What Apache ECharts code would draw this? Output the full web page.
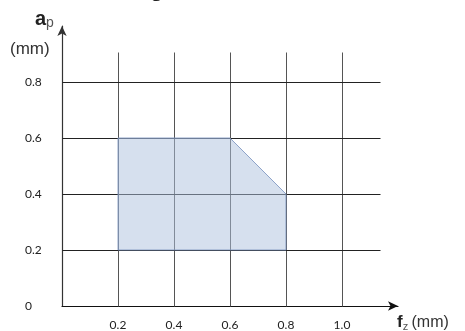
<!DOCTYPE html>
<html><head><meta charset="utf-8">
<script src="https://cdn.jsdelivr.net/npm/echarts@6/dist/echarts.min.js"></script>
<style>html,body{margin:0;padding:0;background:#fff}#c{width:465px;height:331px}</style>
</head><body><div id="c"></div>
<script>
// Data
var xTickValues = [0.2, 0.4, 0.6, 0.8, 1.0];
var xTickLabels = ['0.2', '0.4', '0.6', '0.8', '1.0'];
var yTickValues = [0, 0.2, 0.4, 0.6, 0.8];
var yTickLabels = ['0', '0.2', '0.4', '0.6', '0.8'];
var regionFz = [0.2, 0.2, 0.6, 0.8, 0.8];
var regionAp = [0.2, 0.6, 0.6, 0.4, 0.2];
var gridLineXEnd = 1.136;
var gridLineYEnd = 0.907;

var chart = echarts.init(document.getElementById('c'));

function fmt(list, labels) {
  return function (v) {
    for (var i = 0; i < list.length; i++) if (Math.abs(list[i] - v) < 1e-6) return labels[i];
    return '';
  };
}

var gridData = [];
xTickValues.forEach(function (x) { gridData.push([x, 0, x, gridLineYEnd]); });
yTickValues.forEach(function (y) { if (y > 0) gridData.push([0, y, gridLineXEnd, y]); });

var polyData = regionFz.map(function (x, i) { return [x, regionAp[i]]; });

chart.setOption({
  animation: false,
  grid: { left: 62, right: 67, top: 26, bottom: 25, containLabel: false },
  xAxis: {
    type: 'value', min: 0, max: 1.2, interval: 0.2,
    splitLine: { show: false },
    axisTick: { show: false },
    axisLine: { onZero: false, symbol: ['none', 'arrow'], symbolSize: [7, 10], lineStyle: { color: '#111', width: 1.2 } },
    axisLabel: { formatter: fmt(xTickValues, xTickLabels), margin: 13, color: '#222', fontFamily: 'Lato', fontSize: 12 }
  },
  yAxis: {
    type: 'value', min: 0, max: 1.0, interval: 0.2,
    splitLine: { show: false },
    axisTick: { show: false },
    axisLine: { onZero: false, symbol: ['none', 'arrow'], symbolSize: [7, 10], lineStyle: { color: '#333', width: 1.2 } },
    axisLabel: { formatter: fmt(yTickValues, yTickLabels), margin: 37, align: 'left', color: '#222', fontFamily: 'Lato', fontSize: 12 }
  },
  series: [
    {
      type: 'custom', silent: true, z: 1,
      data: gridData,
      renderItem: function (params, api) {
        var p1 = api.coord([api.value(0), api.value(1)]);
        var p2 = api.coord([api.value(2), api.value(3)]);
        var vertical = api.value(0) === api.value(2);
        return {
          type: 'line',
          shape: { x1: Math.round(p1[0]) + 0.5, y1: Math.round(p1[1]) + 0.5, x2: Math.round(p2[0]) + 0.5, y2: Math.round(p2[1]) + 0.5 },
          style: { stroke: vertical ? '#555' : '#222', lineWidth: 1 }
        };
      }
    },
    {
      type: 'custom', silent: true, z: 2,
      data: [0],
      renderItem: function (params, api) {
        var pts = polyData.map(function (p) { return api.coord(p); });
        return {
          type: 'polygon',
          shape: { points: pts },
          style: { fill: 'rgba(173,193,221,0.5)', stroke: 'rgba(120,145,190,0.8)', lineWidth: 1 }
        };
      }
    }
  ],
  graphic: [
    {
      type: 'text', left: 35, top: 9,
      style: {
        text: '{a|a}{p|p}',
        rich: {
          a: { fontFamily: 'Liberation Sans', fontWeight: 'bold', fontSize: 20, fill: '#222' },
          p: { fontFamily: 'Liberation Sans', fontSize: 14, fill: '#555', verticalAlign: 'bottom', padding: [8, 0, 0, 0] }
        }
      }
    },
    {
      type: 'text', left: 10, top: 41,
      style: { text: '(mm)', fontFamily: 'Liberation Sans', fontSize: 17, fill: '#333' }
    },
    {
      type: 'text', left: 397, top: 314,
      style: {
        text: '{f|f}{z|z} {m|(mm)}',
        rich: {
          f: { fontFamily: 'Liberation Sans', fontWeight: 'bold', fontSize: 17, fill: '#222' },
          z: { fontFamily: 'Liberation Sans', fontSize: 11, fill: '#555', padding: [8, 0, 0, 0] },
          m: { fontFamily: 'Liberation Sans', fontSize: 16, fill: '#333' }
        }
      }
    },
    {
      type: 'text', x: 150, y: -21,
      style: { text: 'g', fontFamily: 'Liberation Sans', fontWeight: 'bold', fontSize: 22, fill: '#222' }
    }
  ]
});
</script></body></html>
